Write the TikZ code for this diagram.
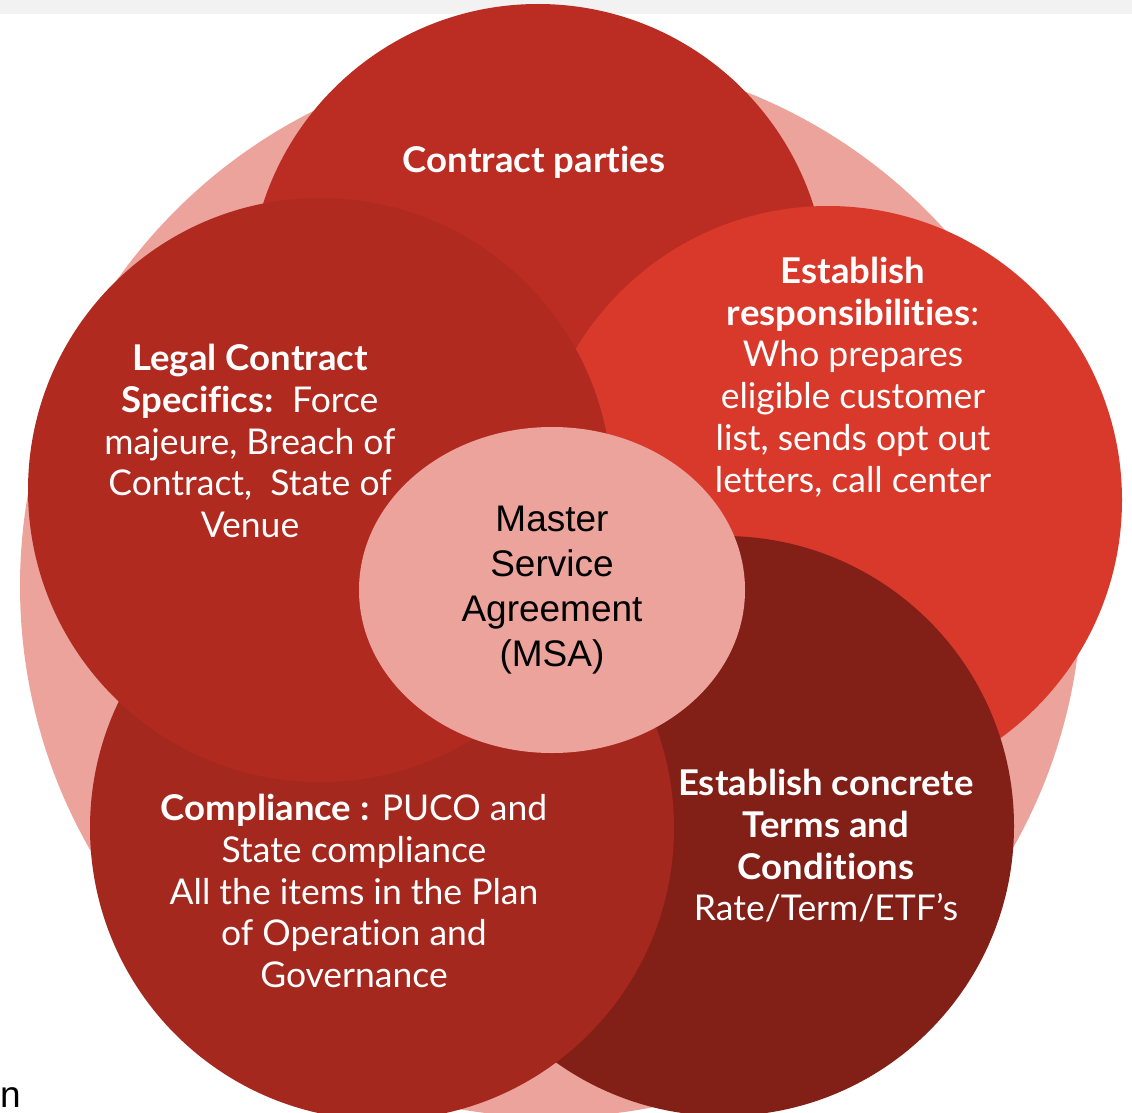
\documentclass[tikz,border=0pt]{standalone}
\usepackage{fontspec}
\setmainfont{Lato}[Ligatures=NoCommon, BoldFeatures={FakeStretch=1.03}]
\newfontfamily\msafont{Liberation Sans}
\usetikzlibrary{shapes.geometric}
\definecolor{blush}{HTML}{ECA39B}
\definecolor{partiesred}{HTML}{BB2D22}
\definecolor{legalred}{HTML}{B02A20}
\definecolor{dutyred}{HTML}{D9392B}
\definecolor{complyred}{HTML}{A5281F}
\definecolor{termsred}{HTML}{821F17}
\definecolor{topbar}{HTML}{F2F2F2}
\tikzset{
	disc/.style={circle, inner sep=0pt, minimum size=#1},
	bodytext/.style={text=white, align=center, font=\fontsize{35.5}{41.7}\selectfont},
}

\begin{document}
\begin{tikzpicture}[x=1pt, y=-1pt]
		% Frame
		\useasboundingbox (0,0) rectangle (1132,1113);
		\fill[topbar] (0,0) rectangle (1132,14);
		
		% Define circles
		\node[disc=1062pt, fill=blush] (outer) at (551,586) {};
		\node[disc=578pt, fill=partiesred] (parties) at (538,293) {};
		\node[disc=588pt, fill=dutyred] (duties) at (828,500) {};
		\node[disc=580pt, fill=termsred] (terms) at (724,826) {};
		\node[disc=584pt, fill=complyred] (comply) at (382,828) {};
		\node[disc=584pt, fill=legalred] (legal) at (320,490) {};
		\node[ellipse, inner sep=0pt, minimum width=386pt, minimum height=326pt, fill=blush] (msa) at (552,590) {};
		
		% Texts
		\node[bodytext] (partiestext) at (534,162) {\textbf{Contract parties}};
		\node[bodytext] (dutiestext) at (853,377) {\textbf{Establish}\\\textbf{responsibilities}:\\Who prepares\\eligible customer\\list, sends opt out\\letters, call center};
		\node[bodytext] (legaltext) at (250,441) {\textbf{Legal Contract}\\\textbf{Specifics:}~~Force\\majeure, Breach of\\Contract,~~State of\\Venue};
		\node[bodytext] (complytext) at (354,891) {\textbf{Compliance :} PUCO and\\State compliance\\All the items in the Plan\\of Operation and\\Governance};
		\node[bodytext] (termstext) at (826,846) {\textbf{Establish concrete}\\\textbf{Terms and}\\\textbf{Conditions}\\Rate/Term/ETF’s};
		\node[align=center, font=\fontsize{37}{45}\selectfont\msafont] (msatext) at (msa) {Master\\Service\\Agreement\\(MSA)};
		\node[anchor=base east, inner sep=0pt, font=\fontsize{37}{45}\selectfont\msafont] (cut) at (21,1107) {n};
	\end{tikzpicture}
\end{document}
